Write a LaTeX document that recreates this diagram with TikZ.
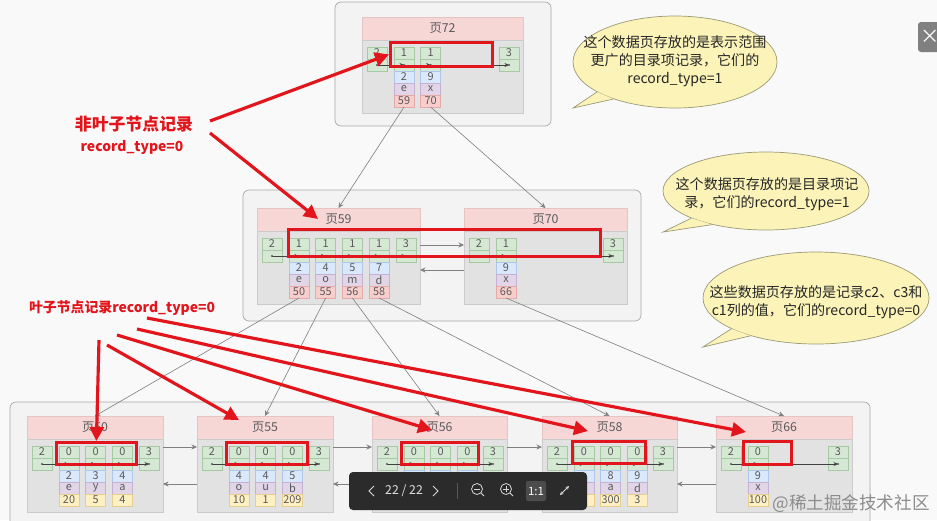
\documentclass[tikz,border=0pt]{standalone}
\usepackage{fontspec}
\setmainfont{Noto Sans CJK SC}
\usetikzlibrary{arrows.meta,shapes.geometric,calc}

\definecolor{bg}{HTML}{F9F9F9}
\definecolor{boxfill}{HTML}{F3F3F3}
\definecolor{boxline}{HTML}{A8A8A8}
\definecolor{hdfill}{HTML}{F7D6D6}
\definecolor{hdline}{HTML}{E6C4C4}
\definecolor{bdfill}{HTML}{E2E2E2}
\definecolor{bdline}{HTML}{CBCBCB}
\definecolor{cg}{HTML}{D5E8D4}
\definecolor{cgl}{HTML}{A6C8A2}
\definecolor{cb}{HTML}{DAE8FC}
\definecolor{cbl}{HTML}{AFC6EA}
\definecolor{cp}{HTML}{E1D5E7}
\definecolor{cpl}{HTML}{C4B0D2}
\definecolor{cr}{HTML}{F8CECC}
\definecolor{crl}{HTML}{E3AAA8}
\definecolor{cy}{HTML}{FFF0C4}
\definecolor{cyl}{HTML}{E6CF8C}
\definecolor{redmk}{HTML}{E3151C}
\definecolor{bub}{HTML}{FBF3B8}
\definecolor{bubline}{HTML}{9C9A78}
\definecolor{txt}{HTML}{5A5A5A}
\definecolor{barbg}{HTML}{2B2B2B}

% #1 name, #2 left, #3 top, #4 width, #5 title, #6 fill of last row, #7 count, #8 records
\newcommand{\datapage}[8]{%
  \node[pghead, minimum width=#4*0.2mm] (#1) at (#2,#3) {#5};
  \node[pgbody, minimum width=#4*0.2mm] (#1b) at (#2,#3+23) {};
  \node[cell] (#1-0) at (#2+5,#3+30) {2};
  \node[cell] (#1-0-d) at (#2+5,#3+42) {};
  \node[cell] (#1-s) at (#2+#4-24,#3+30) {3};
  \node[cell] (#1-s-d) at (#2+#4-24,#3+42) {};
  \foreach \n/\a/\b/\c [count=\k] in {#8} {
    \pgfmathsetmacro\cx{#2+32+26.7*(\k-1)}
    \node[cell] (#1-\k) at (\cx,#3+30) {\n};
    \node[cell] (#1-\k-d) at (\cx,#3+42) {};
    \node[cell, fill=cb, draw=cbl] (#1-\k-a) at (\cx,#3+54) {\a};
    \node[cell, fill=cp, draw=cpl] (#1-\k-b) at (\cx,#3+66) {\b};
    \node[cell, fill=#6, draw=#6l] (#1-\k-c) at (\cx,#3+78) {\c};
    \pgfmathtruncatemacro\pk{\k-1}
    \draw[link] (#1-\pk-d.center) -- (#1-\k-d.center);
  }
  \draw[link] (#1-#7-d.center) -- (#1-s-d.center);
  \foreach \m in {0,...,#7} \fill[txt] (#1-\m-d.center) circle (0.22mm);
  \fill[txt] (#1-s-d.center) circle (0.22mm);
}

\begin{document}
\begin{tikzpicture}[x=0.2mm, y=-0.2mm,
  outer/.style={draw=boxline, fill=boxfill, rounded corners=1.2mm, line width=0.4pt},
  pghead/.style={anchor=north west, inner sep=0, outer sep=0, minimum height=4.6mm,
    fill=hdfill, draw=hdline, line width=0.3pt, text=txt, font=\fontsize{7}{7}\selectfont},
  pgbody/.style={anchor=north west, inner sep=0, outer sep=0, minimum height=14.6mm,
    fill=bdfill, draw=bdline, line width=0.3pt},
  cell/.style={anchor=north west, inner sep=0, outer sep=0, minimum width=4mm,
    minimum height=2.4mm, fill=cg, draw=cgl, line width=0.3pt, text=txt,
    font=\fontsize{6.2}{6.2}\selectfont},
  link/.style={draw=black!75, line width=0.3pt, -{Stealth[length=0.9mm,width=0.8mm]}},
  ptr/.style={draw=black!50, line width=0.35pt, -{Stealth[length=1.1mm,width=1mm]}},
  hl/.style={anchor=north west, draw=redmk, line width=1.6pt, inner sep=0},
  redarr/.style={draw=redmk, line width=1.8pt, -{Triangle[length=2.8mm,width=2.8mm]}},
  redlbl/.style={text=redmk, inner sep=0},
  bubble/.style={ellipse, draw=bubline, fill=bub, line width=0.4pt, inner sep=0},
  bubtxt/.style={align=center, text=black!85, inner sep=0, font=\fontsize{8}{10.3}\selectfont},
  barln/.style={draw=white!85!black, line width=0.45pt},
  bartxt/.style={text=white!88!black, inner sep=0, font=\fontsize{7}{7}\selectfont},
]
\useasboundingbox (0,0) rectangle (937,520);
\fill[bg] (0,0) rectangle (937,520);

% containers
\draw[outer] (335,2) rectangle (551,126);
\draw[outer] (243,190) rectangle (641,321);
\draw[outer] (10,402) rectangle (870,535);

% pages
\datapage{p72}{362}{17}{161}{页72}{cr}{2}{1/2/e/59, 1/9/x/70}
\datapage{p59}{257}{208}{163}{页59}{cr}{4}{1/2/e/50, 1/4/o/55, 1/5/m/56, 1/7/d/58}
\datapage{p70}{464}{208}{163}{页70}{cr}{1}{1/9/x/66}
\datapage{p50}{27}{416}{136}{页50}{cy}{3}{0/2/e/20, 0/3/y/5, 0/4/a/4}
\datapage{p55}{197}{416}{136}{页55}{cy}{3}{0/4/o/10, 0/4/u/1, 0/5/b/209}
\datapage{p56}{372}{416}{135}{页56}{cy}{3}{0/{}/{}/{}, 0/{}/{}/{}, 0/{}/{}/{}}
\datapage{p58}{542}{416}{135}{页58}{cy}{3}{0/{}/{}/{}, 0/8/a/300, 0/9/d/3}
\datapage{p66}{716}{416}{136}{页66}{cy}{1}{0/9/x/100}

% child pointers
\draw[ptr] (p72-1-c.south) -- (p59.north);
\draw[ptr] (p72-2-c.south) -- (p70.north);
\draw[ptr] (p59-1-c.south) -- (p50.north);
\draw[ptr] (p59-2-c.south) -- (p55.north);
\draw[ptr] (p59-3-c.south) -- (p56.north);
\draw[ptr] (p59-4-c.south) -- (p58.north);
\draw[ptr] (p70-1-c.south) -- (p66.north);

% sibling links
\draw[ptr] ($(p59b.north east)+(0,14)$) -- ($(p70b.north west)+(0,14)$);
\draw[ptr] ($(p70b.north west)+(0,39)$) -- ($(p59b.north east)+(0,39)$);
\foreach \l/\r in {p50/p55, p55/p56, p56/p58, p58/p66} {
  \draw[ptr] ($(\l b.north east)+(0,8)$) -- ($(\r b.north west)+(0,8)$);
  \draw[ptr] ($(\r b.north west)+(0,45)$) -- ($(\l b.north east)+(0,45)$);
}

% highlighted records
\node[hl, minimum width=102*0.2mm, minimum height=24*0.2mm] (hl72) at (389,41) {};
\node[hl, minimum width=312*0.2mm, minimum height=27*0.2mm] (hl59) at (287,228) {};
\node[hl, minimum width=80*0.2mm, minimum height=22*0.2mm] (hl50) at (55,441) {};
\node[hl, minimum width=81*0.2mm, minimum height=22*0.2mm] (hl55) at (225,441) {};
\node[hl, minimum width=77*0.2mm, minimum height=22*0.2mm] (hl56) at (400,441) {};
\node[hl, minimum width=73*0.2mm, minimum height=22*0.2mm] (hl58) at (571,440) {};
\node[hl, minimum width=48*0.2mm, minimum height=23*0.2mm] (hl66) at (742,440) {};

% balloons
\node[bubble, minimum width=204*0.2mm, minimum height=92*0.2mm] (bub1) at (675,62) {};
\coordinate (tip1) at (573,108);
\fill[bub] (bub1.201) -- (tip1) -- (bub1.211) -- cycle;
\draw[bubline, line width=0.4pt] (bub1.201) -- (tip1) -- (bub1.211);
\node[bubtxt] (bub1t) at (675,61) {这个数据页存放的是表示范围\\更广的目录项记录，它们的\\record\_type=1};

\node[bubble, minimum width=206*0.2mm, minimum height=78*0.2mm] (bub2) at (766,191) {};
\coordinate (tip2) at (663,232);
\fill[bub] (bub2.200) -- (tip2) -- (bub2.212) -- cycle;
\draw[bubline, line width=0.4pt] (bub2.200) -- (tip2) -- (bub2.212);
\node[bubtxt] (bub2t) at (767,194) {这个数据页存放的是目录项记\\录，它们的record\_type=1};

\node[bubble, minimum width=226*0.2mm, minimum height=92*0.2mm] (bub3) at (816,298) {};
\coordinate (tip3) at (703,347);
\fill[bub] (bub3.200) -- (tip3) -- (bub3.210) -- cycle;
\draw[bubline, line width=0.4pt] (bub3.200) -- (tip3) -- (bub3.210);
\node[bubtxt] (bub3t) at (816,302) {这些数据页存放的是记录c2、c3和\\c1列的值，它们的record\_type=0};

% red notes
\node[redlbl, font=\bfseries\fontsize{9.6}{10}\selectfont] (nonleaf) at (134,124) {非叶子节点记录};
\node[redlbl, font=\bfseries\fontsize{7.9}{8}\selectfont] (nonleaft) at (132,147) {record\_type=0};
\node[redlbl, font=\bfseries\fontsize{7.9}{8}\selectfont] (leaf) at (122,308) {叶子节点记录record\_type=0};

\coordinate (s1) at (210,121);
\coordinate (s2) at (210,133);
\coordinate (s3) at (99,340);
\coordinate (s4) at (107,345);
\coordinate (s5) at (117,335);
\coordinate (s6) at (137,329);
\coordinate (s7) at (147,318);
\coordinate (t59) at (318,219);
\coordinate (t55) at (239,420);
\coordinate (t56) at (432,430);
\coordinate (t58) at (588,431);
\coordinate (t66) at (746,432);

\draw[redarr] (s1) -- (hl72.west);
\draw[redarr] (s2) -- (t59);
\draw[redarr] (s3) -- (hl50.north);
\draw[redarr] (s4) -- (t55);
\draw[redarr] (s5) -- (t56);
\draw[redarr] (s6) -- (t58);
\draw[redarr] (s7) -- (t66);

% viewer toolbar
\node[fill=barbg, rounded corners=0.8mm, minimum width=238*0.2mm, minimum height=38*0.2mm, inner sep=0] (bar) at (468,491) {};
\draw[barln] (374,486) -- (369,491) -- (374,496);
\node[bartxt] (pgno) at (404,491) {22 / 22};
\draw[barln] (433,486) -- (438,491) -- (433,496);
\draw[draw=white!35!black, line width=0.4pt] (457,483) -- (457,499);
\draw[barln] (477,489) circle (1.1mm);
\draw[barln] (474,489) -- (480,489);
\draw[barln] (481,493) -- (484,496);
\draw[barln] (506,489) circle (1.1mm);
\draw[barln] (503,489) -- (509,489);
\draw[barln] (506,486) -- (506,492);
\draw[barln] (510,493) -- (513,496);
\node[fill=white!30!black, rounded corners=0.4mm, minimum width=20*0.2mm, minimum height=20*0.2mm,
  inner sep=0, text=white, font=\fontsize{6.5}{6.5}\selectfont] (onetoone) at (536,491) {1:1};
\draw[barln, {Stealth[length=0.7mm,width=0.7mm]}-{Stealth[length=0.7mm,width=0.7mm]}] (560,495) -- (569,486);

% watermark and close button
\node[text=black!45, inner sep=0, font=\fontsize{10}{10}\selectfont] (wmk) at (851,504) {@稀土掘金技术社区};
\node[fill=black!50, rounded corners=0.6mm, minimum width=24*0.2mm, minimum height=30*0.2mm,
  inner sep=0, text=white, font=\fontsize{11}{11}\selectfont] (close) at (930,37) {×};
\end{tikzpicture}
\end{document}
